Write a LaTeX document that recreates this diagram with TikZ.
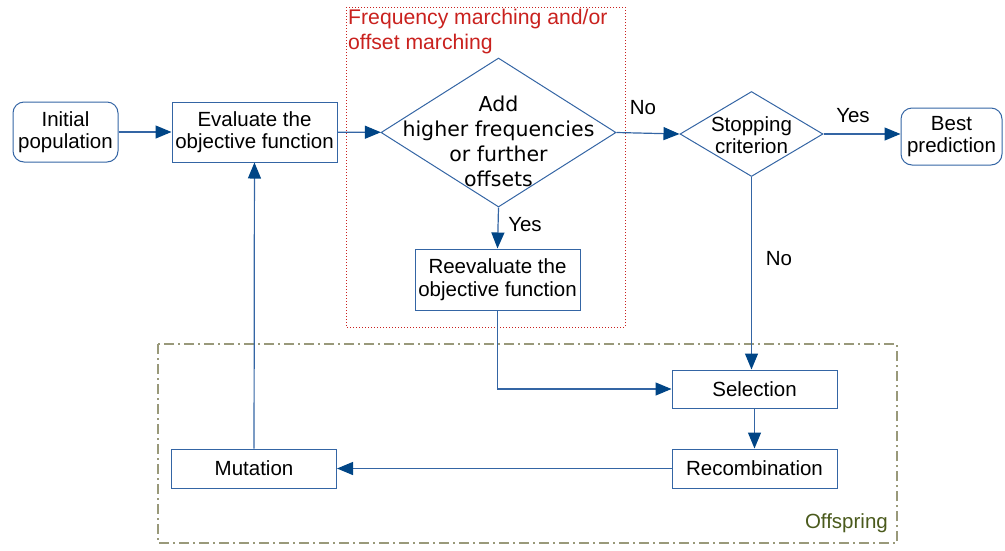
\documentclass[tikz,border=0pt]{standalone}
\usepackage{fontspec}
\setmainfont{Liberation Sans}
\newfontfamily\dejavu{DejaVu Sans}
\usetikzlibrary{arrows.meta,shapes.geometric}
\definecolor{edge}{HTML}{3465A4}
\definecolor{tipblue}{HTML}{004586}
\definecolor{marchred}{HTML}{C9211E}
\definecolor{offline}{HTML}{99997A}
\definecolor{offtext}{HTML}{4A5A1C}
\tikzset{
  box/.style={draw=edge,line width=1pt,minimum width=165pt,align=center,inner sep=0pt},
  term/.style={box,rounded corners=11pt},
  decision/.style={draw=edge,line width=1pt,diamond,inner sep=0pt},
  flow/.style={draw=edge,line width=1.2pt,-{Triangle[length=16pt,width=13pt,color=tipblue]}},
}

\begin{document}
\begin{tikzpicture}[x=1pt,y=-1pt,font=\fontsize{20.5}{22.5}\selectfont]
  \useasboundingbox (0,0) rectangle (1005,550);
  \draw[marchred,dotted,line width=1pt] (346,7) rectangle (625,327);
  \draw[offline,line width=1.5pt,dash pattern=on 10pt off 4pt on 2pt off 4pt] (158,344) rectangle (897,543);
  \node[anchor=north west,align=left,inner sep=0pt,text=marchred,font=\fontsize{21.2}{25}\selectfont] (marchlbl) at (348,9) {Frequency marching and/or\\offset marching};
  \node[anchor=south east,inner sep=0pt,text=offtext] (offlbl) at (888,533) {Offspring};

  \node[term,minimum width=105pt,minimum height=60pt] (init) at (65.5,132) {Initial\\population};
  \node[box,minimum height=60pt] (eval) at (254.5,132) {Evaluate the\\objective function};
  \node[decision,minimum width=235pt,minimum height=149pt] (freq) at (498.5,132.5) {};
  \node[align=center,inner sep=0pt,font=\dejavu\fontsize{20.5}{25}\selectfont] (freqtxt) at (498.5,141) {Add\\higher frequencies\\or further\\offsets};
  \node[box,minimum height=61pt] (reval) at (497.5,279.5) {Reevaluate the\\objective function};
  \node[decision,minimum width=143pt,minimum height=85pt] (stop) at (751.5,134) {};
  \node[align=center,inner sep=0pt] (stoptxt) at (751.5,135) {Stopping\\criterion};
  \node[term,minimum width=101pt,minimum height=57pt] (best) at (951.5,136.5) {Best\\prediction};
  \node[box,minimum height=38pt] (sel) at (754.5,389) {Selection};
  \node[box,minimum height=39pt] (recomb) at (754.5,468.5) {Recombination};
  \node[box,minimum height=39pt] (mut) at (254,468.5) {Mutation};

  \node (no1) at (643,108) {No};
  \node (yes1) at (525,225) {Yes};
  \node (yes2) at (853,116) {Yes};
  \node (no2) at (779,259) {No};

  \draw[flow] (init) -- (eval);
  \draw[flow] (eval) -- (freq);
  \draw[flow] (freq.east) -- (stop.west);
  \draw[flow] (freq.south) -- (reval.north);
  \draw[flow] (stop.east) -- (stop.east -| best.west);
  \draw[flow] (stop.south) -- (stop.south |- sel.north);
  \draw[flow] (reval.south) |- (sel.west);
  \draw[flow] (sel) -- (recomb);
  \draw[flow] (recomb) -- (mut);
  \draw[flow] (mut) -- (eval);
\end{tikzpicture}
\end{document}
